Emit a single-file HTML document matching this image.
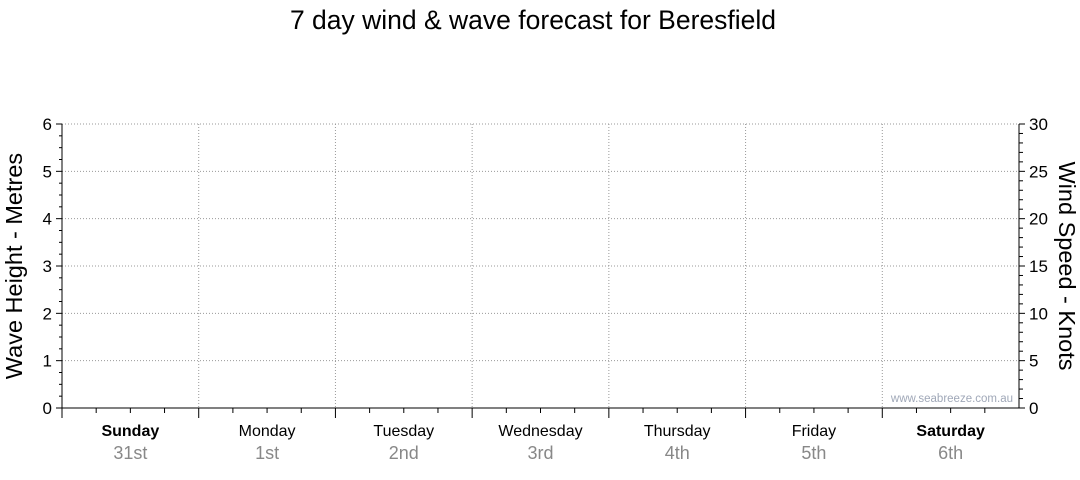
<!DOCTYPE html>
<html><head><meta charset="utf-8"><style>
body{margin:0;background:#fff;width:1080px;height:475px;overflow:hidden}
svg{font-family:"Liberation Sans","DejaVu Sans",sans-serif}
</style></head><body>
<svg id="c" width="1080" height="475">
<text x="533" y="29" text-anchor="middle" font-size="26.5" fill="#000">7 day wind &amp; wave forecast for Beresfield</text>
<text transform="translate(22,266) rotate(-90)" text-anchor="middle" font-size="23.5">Wave Height - Metres</text>
<text transform="translate(1059,266) rotate(90)" text-anchor="middle" font-size="23.5">Wind Speed - Knots</text>
<text x="1013" y="402" text-anchor="end" font-size="11.5" fill="#a0a8b8">www.seabreeze.com.au</text>
<g id="g"></g>
</svg>
<script>
const days=["Sunday","Monday","Tuesday","Wednesday","Thursday","Friday","Saturday"];
const dates=["31st","1st","2nd","3rd","4th","5th","6th"];
const boldDays=[true,false,false,false,false,false,true];
const waveTicks=[0,1,2,3,4,5,6];
const windTicks=[0,5,10,15,20,25,30];
const L=62,R=1019,T=124,B=408;
const yW=v=>B-(v/6)*(B-T), yK=v=>B-(v/30)*(B-T);
const dw=(R-L)/days.length, xD=d=>L+d*dw;
const g=document.getElementById('g');const NS='http://www.w3.org/2000/svg';
function mk(t,a,name){const e=document.createElementNS(NS,t);for(const k in a)e.setAttribute(k,a[k]);


g.appendChild(e);return e;}
waveTicks.forEach(v=>{if(v>0)mk('line',{x1:L,x2:R,y1:yW(v),y2:yW(v),stroke:'#999','stroke-dasharray':'1,2'},'h-gridline');
mk('line',{x1:L-6,x2:L,y1:yW(v),y2:yW(v),stroke:'#000'},'left-major-tick');
const t=mk('text',{x:L-10,y:yW(v)+6,'text-anchor':'end','font-size':17},'left-tick-label');t.textContent=v;});
for(let v=0;v<6;v+=0.25){if(v%1)mk('line',{x1:L-3,x2:L,y1:yW(v),y2:yW(v),stroke:'#000'},'left-minor-tick');}
windTicks.forEach(v=>{mk('line',{x1:R,x2:R+6,y1:yK(v),y2:yK(v),stroke:'#000'},'right-major-tick');
const t=mk('text',{x:R+10,y:yK(v)+6,'font-size':17},'right-tick-label');t.textContent=v;});
for(let v=0;v<30;v++){if(v%5)mk('line',{x1:R,x2:R+4,y1:yK(v),y2:yK(v),stroke:'#000'},'right-minor-tick');}
days.forEach((d,i)=>{
 if(i>0)mk('line',{x1:xD(i),x2:xD(i),y1:T,y2:B,stroke:'#999','stroke-dasharray':'1,2'},'v-gridline');
 mk('line',{x1:xD(i),x2:xD(i),y1:B,y2:B+10,stroke:'#000'},'day-tick');
 for(let q=1;q<4;q++)mk('line',{x1:xD(i)+q*dw/4,x2:xD(i)+q*dw/4,y1:B,y2:B+5,stroke:'#000'},'hour-tick');
 const t=mk('text',{x:xD(i)+dw/2,y:436,'text-anchor':'middle','font-size':16,'font-weight':boldDays[i]?'bold':'normal'},'day-label');t.textContent=d;
 const s=mk('text',{x:xD(i)+dw/2,y:459,'text-anchor':'middle','font-size':18,fill:'#888'},'date-label');s.textContent=dates[i];
});
mk('line',{x1:L,x2:L,y1:T,y2:B+10,stroke:'#000'},'left-axis');
mk('line',{x1:R,x2:R,y1:T,y2:B,stroke:'#000'},'right-axis');
mk('line',{x1:L,x2:R,y1:B,y2:B,stroke:'#000'},'x-axis');
</script>
</body></html>
